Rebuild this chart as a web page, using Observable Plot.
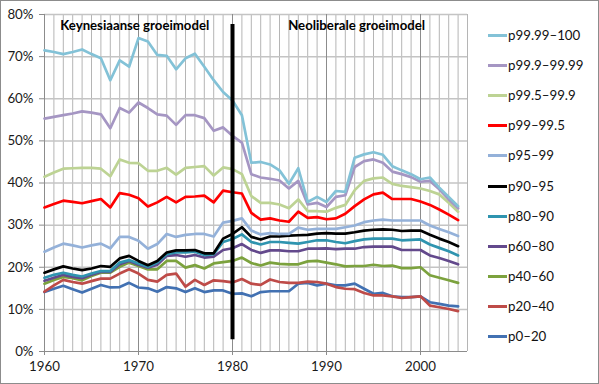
<!DOCTYPE html>
<html>
<head>
<meta charset="utf-8">
<script src="https://cdn.jsdelivr.net/npm/d3@7"></script>
<script src="https://cdn.jsdelivr.net/npm/@observablehq/plot@0.6"></script>
<style>
  html, body { margin: 0; padding: 0; background: #fff; }
  #wrap { position: relative; width: 599px; height: 384px; overflow: hidden; font-family: Lato, "DejaVu Sans", sans-serif; }
  #wrap svg { position: absolute; left: 0; top: 0; }
  #border { position: absolute; left: 0; top: 0; width: 599px; height: 384px; box-sizing: border-box; border: 1px solid #8c8c8c; pointer-events: none; }
  #legend { position: absolute; left: 488px; top: 0; }
  .item { position: absolute; left: 0; white-space: nowrap; height: 16px; line-height: 16px; font-size: 13.3px; color: #111; }
  .swatch { position: absolute; left: 0; top: 7px; width: 19px; height: 3px; }
  .lab { position: absolute; left: 20px; top: 0; }
</style>
</head>
<body>
<div id="wrap"><div id="legend"></div><div id="border"></div></div>
<script>
// ---- data ----
const years = d3.range(1960, 2005);
const seriesNames = ["p99.99–100", "p99.9–99.99", "p99.5–99.9", "p99–99.5", "p95–99", "p90–95", "p80–90", "p60–80", "p40–60", "p20–40", "p0–20"];
const seriesColors = ["#83C2D7", "#A596C3", "#BDD394", "#FF0000", "#94B1D9", "#000000", "#2F94AF", "#63498C", "#7CA23E", "#BE4B48", "#4271B2"];

const p99_99_100 = [71.5, 71.1, 70.6, 71.1, 71.7, 70.6, 69.6, 64.4, 69.1, 67.6, 74.4, 73.6, 70.4, 70.2, 67.0, 69.6, 70.7, 67.6, 64.4, 61.6, 59.6, 56.1,
  44.8, 45.0, 44.4, 43.0, 39.8, 43.5, 35.5, 36.7, 35.5, 38.1, 37.9, 46.0, 46.8, 47.3, 46.7, 44.0, 43.0, 42.1, 40.9, 41.3, 38.9, 36.7, 34.5];
const p99_9_99_99 = [55.3, 55.7, 56.1, 56.5, 57.0, 56.7, 56.3, 53.0, 57.8, 56.7, 59.1, 57.8, 56.3, 56.0, 53.8, 56.1, 56.1, 55.4, 52.4, 53.2, 51.2, 49.6,
  42.1, 41.3, 41.0, 40.6, 38.7, 40.5, 34.9, 35.3, 34.3, 36.7, 37.1, 43.8, 45.2, 45.6, 44.8, 42.7, 42.1, 41.4, 40.3, 40.5, 38.5, 36.1, 34.0];
const p99_5_99_9 = [41.5, 42.5, 43.4, 43.5, 43.6, 43.6, 43.4, 41.6, 45.6, 44.8, 44.7, 42.9, 42.9, 43.6, 42.0, 43.6, 43.8, 44.0, 41.8, 43.7, 43.3, 42.1,
  36.9, 35.3, 35.3, 34.9, 34.0, 36.1, 33.3, 33.3, 33.2, 34.1, 34.8, 38.3, 40.5, 41.1, 41.3, 39.8, 39.3, 39.0, 38.7, 38.1, 37.3, 35.3, 33.2];
const p99_99_5 = [34.2, 35.0, 35.8, 35.5, 35.2, 35.7, 36.2, 34.2, 37.6, 37.2, 36.4, 34.4, 35.4, 36.7, 35.4, 36.7, 36.8, 37.0, 35.4, 38.2, 37.8, 37.5,
  32.9, 31.3, 31.6, 31.1, 30.8, 33.2, 31.7, 31.9, 31.4, 31.6, 32.7, 34.5, 36.1, 37.3, 37.7, 36.2, 36.2, 36.2, 35.6, 34.8, 33.7, 32.5, 31.2];
const p95_99 = [23.7, 24.7, 25.6, 25.2, 24.7, 25.2, 25.6, 24.5, 27.2, 27.2, 26.3, 24.4, 25.5, 27.9, 27.2, 27.7, 27.9, 27.9, 27.3, 30.6, 31.0, 31.6,
  28.7, 27.8, 28.1, 27.9, 27.9, 29.4, 28.9, 29.1, 29.1, 29.1, 29.5, 29.9, 30.7, 31.1, 31.3, 31.1, 31.1, 31.1, 31.1, 29.9, 29.1, 28.3, 27.4];
const p90_95 = [18.7, 19.5, 20.2, 19.7, 19.3, 19.7, 20.3, 20.1, 22.1, 22.7, 21.5, 20.5, 21.5, 23.5, 24.0, 24.0, 24.1, 23.3, 23.3, 26.8, 27.9, 29.5,
  27.2, 26.6, 27.3, 27.3, 27.5, 27.6, 27.7, 28.0, 28.1, 28.0, 28.0, 28.3, 28.7, 28.9, 29.0, 28.9, 28.6, 28.7, 28.7, 27.7, 26.8, 26.0, 25.0];
const p80_90 = [17.5, 18.2, 18.7, 18.2, 17.8, 18.5, 19.1, 19.1, 21.1, 21.7, 20.9, 20.1, 21.1, 23.1, 23.5, 23.5, 23.7, 22.9, 23.1, 26.0, 26.7, 27.8,
  26.0, 25.4, 26.0, 26.0, 25.8, 25.6, 26.0, 26.4, 26.4, 26.0, 25.7, 26.2, 26.6, 26.8, 26.8, 26.8, 26.4, 26.5, 26.6, 25.4, 24.6, 23.8, 22.8];
const p60_80 = [16.8, 17.5, 18.2, 17.7, 17.4, 18.2, 18.9, 18.9, 20.7, 21.5, 20.6, 19.9, 20.6, 22.7, 22.9, 22.5, 22.9, 22.3, 22.5, 24.1, 24.5, 25.5,
  24.1, 23.4, 24.0, 24.0, 23.8, 23.8, 24.4, 24.4, 24.5, 24.3, 24.4, 24.4, 24.8, 24.9, 24.9, 24.9, 24.1, 24.1, 24.1, 22.8, 22.2, 21.5, 20.7];
const p40_60 = [16.1, 17.0, 17.7, 17.4, 16.9, 17.9, 18.7, 18.7, 20.1, 21.1, 20.3, 19.5, 19.5, 21.5, 21.5, 19.9, 20.5, 19.7, 20.9, 21.2, 21.5, 22.3,
  21.0, 20.4, 21.1, 20.8, 20.7, 20.7, 21.4, 21.5, 21.1, 20.7, 20.2, 20.3, 20.3, 20.6, 20.3, 20.4, 19.8, 19.8, 20.0, 18.1, 17.5, 16.9, 16.3];
const p20_40 = [14.2, 15.7, 17.0, 16.5, 16.1, 16.7, 17.3, 17.3, 18.5, 19.5, 18.5, 17.0, 16.6, 18.2, 18.5, 15.4, 17.0, 15.8, 16.9, 16.7, 16.4, 17.2,
  16.1, 15.8, 17.1, 16.5, 16.3, 16.3, 16.6, 16.5, 16.1, 15.3, 14.9, 14.8, 13.9, 13.3, 13.3, 13.1, 12.7, 12.9, 13.1, 10.9, 10.5, 10.1, 9.6];
const p0_20 = [14.1, 14.9, 15.6, 14.8, 14.0, 14.9, 15.8, 15.2, 15.3, 16.3, 15.2, 15.0, 14.2, 15.3, 15.0, 14.1, 15.0, 14.1, 14.5, 14.5, 13.7, 13.8,
  13.1, 14.1, 14.3, 14.3, 14.3, 16.1, 16.3, 15.7, 16.1, 15.7, 15.7, 16.1, 14.9, 13.7, 13.9, 13.1, 12.9, 12.9, 13.1, 11.7, 11.3, 10.9, 10.7];

const seriesValues = [p99_99_100, p99_9_99_99, p99_5_99_9, p99_99_5, p95_99, p90_95, p80_90, p60_80, p40_60, p20_40, p0_20];

const xTicks = [1960, 1970, 1980, 1990, 2000];
const yTicks = [0, 10, 20, 30, 40, 50, 60, 70, 80];
const dividerYear = 1980, dividerFrom = 2.8, dividerTo = 77.6;
const periodLabels = ["Keynesiaanse groeimodel", "Neoliberale groeimodel"];
const periodLabelYears = [1969.6, 1993.2];
const periodLabelValue = 77.3;

// ---- build table (drawn bottom series first, top series last) ----
const rows = [];
for (let i = seriesNames.length - 1; i >= 0; i--) {
  seriesValues[i].forEach((v, j) => rows.push({series: seriesNames[i], year: years[j], value: v}));
}

const chart = Plot.plot({
  width: 599,
  height: 384,
  marginLeft: 44,
  marginRight: 132,
  marginTop: 14,
  marginBottom: 33,
  style: {fontFamily: "Lato, sans-serif", fontSize: "13.3px", background: "transparent", overflow: "visible"},
  x: {domain: [1960, 2005], axis: null},
  y: {domain: [0, 80], axis: null},
  color: {domain: seriesNames, range: seriesColors},
  marks: [
    Plot.ruleX(d3.range(1961, 2006), {stroke: "#b5b5b5", strokeWidth: 1}),
    Plot.ruleY(yTicks.slice(1), {stroke: "#c4c4c4", strokeWidth: 1.5}),
    Plot.ruleX(xTicks.slice(1), {stroke: "#8c8c8c", strokeWidth: 1}),
    Plot.ruleX([1960], {stroke: "#8c8c8c"}),
    Plot.ruleY([0], {stroke: "#8c8c8c"}),
    Plot.axisY({ticks: yTicks, tickFormat: d => d + "%", tickSize: 5, tickPadding: 6, stroke: "#8c8c8c", fill: "#1a1a1a", label: null}),
    Plot.axisX({ticks: xTicks, tickFormat: d => String(d), tickSize: 4, tickPadding: 6, stroke: "#8c8c8c", fill: "#1a1a1a", label: null}),
    Plot.line(rows, {x: "year", y: "value", z: "series", stroke: "series", strokeWidth: 2.7, strokeLinejoin: "round"}),
    Plot.ruleX([dividerYear], {y1: dividerFrom, y2: dividerTo, stroke: "#000", strokeWidth: 4}),
    Plot.text(periodLabels, {x: (d, i) => periodLabelYears[i], y: () => periodLabelValue, text: d => d,
      fontWeight: "bold", fontSize: 13.2, fill: "#000"})
  ]
});
document.getElementById("wrap").prepend(chart);

// legend
const legend = document.getElementById("legend");
seriesNames.forEach((name, i) => {
  const item = document.createElement("div");
  item.className = "item";
  item.style.top = (27 + i * 30.1) + "px";
  const sw = document.createElement("span");
  sw.className = "swatch";
  sw.style.background = seriesColors[i];
  const lab = document.createElement("span");
  lab.className = "lab";
  lab.textContent = name;
  item.appendChild(sw);
  item.appendChild(lab);
  legend.appendChild(item);
});
</script>
</body>
</html>
